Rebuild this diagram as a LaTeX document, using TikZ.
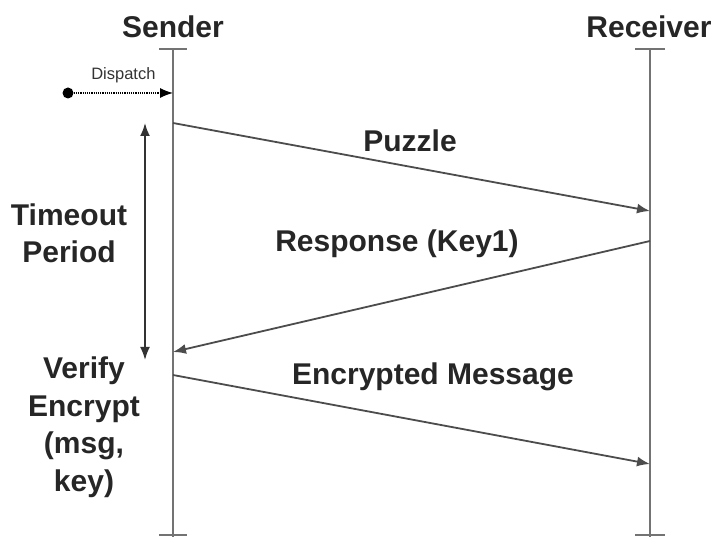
\documentclass[tikz,border=0pt]{standalone}
\usepackage{fontspec}
\setmainfont{Liberation Sans}
\usetikzlibrary{arrows.meta, positioning}

\begin{document}
\begin{tikzpicture}[x=1pt, y=-1pt, >={Latex[length=13pt,width=10pt]},
  actor/.style={font=\fontsize{30}{36}\selectfont\bfseries, text=black!85, inner sep=0pt},
  msglabel/.style={font=\fontsize{30}{36}\selectfont\bfseries, text=black!85, inner sep=0pt, align=center},
  lifeline/.style={draw=black!55, line width=2pt},
  msg/.style={draw=black!70, line width=1.8pt, ->}]
  \useasboundingbox (0,0) rectangle (713,537);
  % actors and lifelines
  \node[actor] (sender) at (173,27) {Sender};
  \node[actor] (receiver) at (649,27) {Receiver};
  \coordinate (s-top) at (173,49);
  \coordinate (s-bot) at (173,537);
  \coordinate (r-top) at (650,49);
  \coordinate (r-bot) at (650,537);
  \draw[lifeline] (s-top) -- (s-bot);
  \draw[lifeline] (r-top) -- (r-bot);
  \draw[lifeline] ([xshift=-14pt]s-top) -- ([xshift=14pt]s-top);
  \draw[lifeline] ([xshift=-15pt]r-top) -- ([xshift=15pt]r-top);
  \draw[lifeline] ([xshift=-14pt]173,535) -- ([xshift=14pt]173,535);
  \draw[lifeline] ([xshift=-15pt]650,535) -- ([xshift=15pt]650,535);
  % dispatch
  \node[circle, fill=black, inner sep=0pt, minimum size=11pt] (start) at (68,93) {};
  \coordinate (s-disp) at (173,93);
  \draw[densely dotted, line width=1.2pt, ->] (start) -- node[above=6pt, font=\fontsize{16.5}{20}\selectfont, text=black!80]{Dispatch} (s-disp);
  % messages
  \coordinate (s1) at (173,123);
  \coordinate (r1) at (650,211);
  \coordinate (r2) at (650,241);
  \coordinate (s2) at (173,352);
  \coordinate (s3) at (173,375);
  \coordinate (r3) at (650,464);
  \draw[msg] (s1) -- (r1);
  \draw[msg] (r2) -- (s2);
  \draw[msg] (s3) -- (r3);
  \node[msglabel] (puzzle) at (410,141) {Puzzle};
  \node[msglabel] (response) at (397,244) {Response (Key1)};
  \node[msglabel] (encmsg) at (433,377) {Encrypted Message};
  % timeout
  \coordinate (t-top) at (145,123);
  \coordinate (t-bot) at (145,360);
  \draw[black!80, line width=1.8pt, <->] (t-top) -- (t-bot);
  \node[msglabel, font=\fontsize{30}{37}\selectfont\bfseries] (timeout) at (69,233) {Timeout\\Period};
  \node[msglabel, font=\fontsize{30}{37.5}\selectfont\bfseries] (verify) at (84,427) {Verify\\Encrypt\\(msg,\\key)};
\end{tikzpicture}
\end{document}
